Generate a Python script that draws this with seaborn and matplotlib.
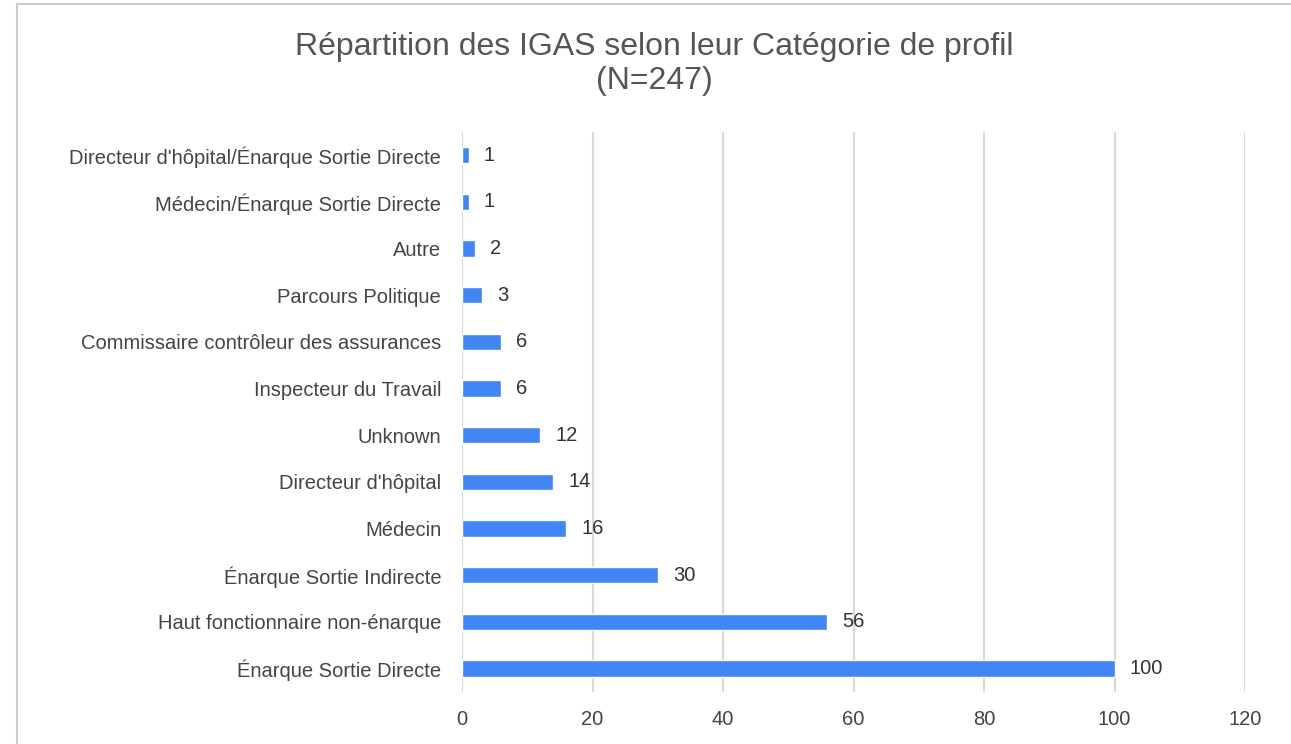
import pandas as pd
import seaborn as sns
import matplotlib.pyplot as plt
from matplotlib.patches import Rectangle

categories = [
    "Directeur d'hôpital/Énarque Sortie Directe",
    "Médecin/Énarque Sortie Directe",
    "Autre",
    "Parcours Politique",
    "Commissaire contrôleur des assurances",
    "Inspecteur du Travail",
    "Unknown",
    "Directeur d'hôpital",
    "Médecin",
    "Énarque Sortie Indirecte",
    "Haut fonctionnaire non-énarque",
    "Énarque Sortie Directe",
]
counts = [1, 1, 2, 3, 6, 6, 12, 14, 16, 30, 56, 100]
x_ticks = [0, 20, 40, 60, 80, 100, 120]

sns.set_style("white")
plt.rcParams['font.family'] = ['Liberation Sans', 'DejaVu Sans']

df = pd.DataFrame({"profil": categories, "n": counts})

fig = plt.figure(figsize=(12.91, 7.44), dpi=100)
ax = fig.add_axes([0.3579, 0.0699, 0.6065, 0.7527])

sns.barplot(data=df, x="n", y="profil", order=categories, orient="h",
            color="#4285F4", saturation=1, width=0.35, ax=ax)

ax.set_xlim(0, 120)
ax.set_xticks(x_ticks)
ax.set_ylim(len(categories) - 0.5, -0.5)
ax.xaxis.grid(True, color="#d9d9d9", linewidth=1.5)
ax.set_axisbelow(True)
for s in ax.spines.values():
    s.set_visible(False)
ax.set_xlabel("")
ax.set_ylabel("")
ax.tick_params(axis="both", length=0, colors="#444444", labelsize=14.5)
ax.tick_params(axis="y", pad=15)
ax.tick_params(axis="x", pad=13)

for c in ax.containers:
    ax.bar_label(c, labels=[str(v) for v in counts], padding=11,
                 fontsize=14.5, color="#333333")

fig.text(0.507, 0.914, "Répartition des IGAS selon leur Catégorie de profil\n(N=247)",
         ha="center", va="center", fontsize=23, color="#555555", linespacing=1.2)

fig.patches.append(Rectangle((17 / 1291, -0.01), 1.2, 1 - 4 / 744 + 0.01,
                             transform=fig.transFigure, fill=False,
                             edgecolor="#cccccc", linewidth=1.5))

fig.savefig("out.png", dpi=100)
